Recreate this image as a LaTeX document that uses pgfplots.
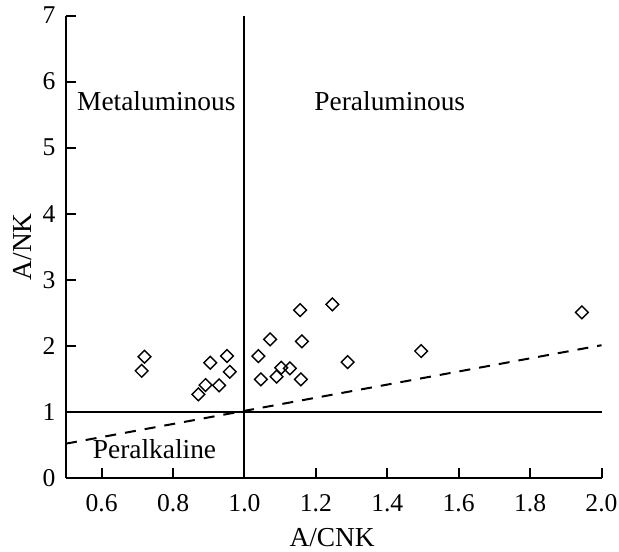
\documentclass[border=0pt]{standalone}
\usepackage{pgfplots}
\pgfplotsset{compat=1.18}
\usepackage{fontspec}
\setmainfont{Liberation Serif}
\pgfplotstableread{
x y
0.720 1.835
0.712 1.623
0.904 1.744
0.951 1.846
0.959 1.608
0.891 1.407
0.871 1.266
0.929 1.402
1.039 1.846
1.072 2.098
1.046 1.493
1.090 1.533
1.103 1.669
1.127 1.660
1.156 2.542
1.161 2.068
1.158 1.493
1.246 2.628
1.289 1.755
1.495 1.921
1.945 2.507
}\samples
\begin{document}
\begin{tikzpicture}
\begin{axis}[
  scale only axis,
  width=267.75pt, height=231.2pt,
  xmin=0.5, xmax=2.0, ymin=0, ymax=7,
  axis x line*=bottom, axis y line*=left,
  axis line style={line width=1pt},
  tick align=inside,
  major tick length=5pt,
  tick style={line width=1pt, black},
  xtick={0.6,0.8,1.0,1.2,1.4,1.6,1.8,2.0},
  ytick={0,1,2,3,4,5,6,7},
  xticklabel style={/pgf/number format/fixed, /pgf/number format/precision=1, /pgf/number format/fixed zerofill, yshift=-4.6pt, inner xsep=0pt},
  yticklabel style={xshift=-1.7pt},
  /pgf/number format/assume math mode=true,
  tick label style={font=\fontsize{12.8}{14}\selectfont},
  label style={font=\fontsize{13.7}{15}\selectfont},
  xlabel={A/CNK},
  ylabel={A/NK},
  xlabel style={at={(axis description cs:0.497,-0.148)}, anchor=base, inner sep=0pt},
  ylabel style={at={(axis description cs:-0.081,0.5)}, anchor=center, inner sep=0pt},
  clip=false,
]
\addplot[black, line width=1pt] coordinates {(1,0) (1,7)};
\addplot[black, line width=1pt] coordinates {(0.5,1) (2.0,1)};
\addplot[black, line width=1pt, dash pattern=on 5.5pt off 4.5pt] coordinates {(0.5,0.52) (2.0,2.01)};
\addplot[only marks, mark=square, mark size=2.25pt, mark options={rotate=45, line width=0.7pt, fill=white, draw=black}] table[x=x,y=y] {\samples};
\node[font=\fontsize{13.7}{15}\selectfont] at (axis cs:0.753,5.70) {Metaluminous};
\node[font=\fontsize{13.7}{15}\selectfont] at (axis cs:1.407,5.70) {Peraluminous};
\node[font=\fontsize{13.7}{15}\selectfont] at (axis cs:0.748,0.44) {Peralkaline};
\path (rel axis cs:-0.1232,-0.160) rectangle (rel axis cs:1.0327,1.0337);
\end{axis}
\end{tikzpicture}
\end{document}
